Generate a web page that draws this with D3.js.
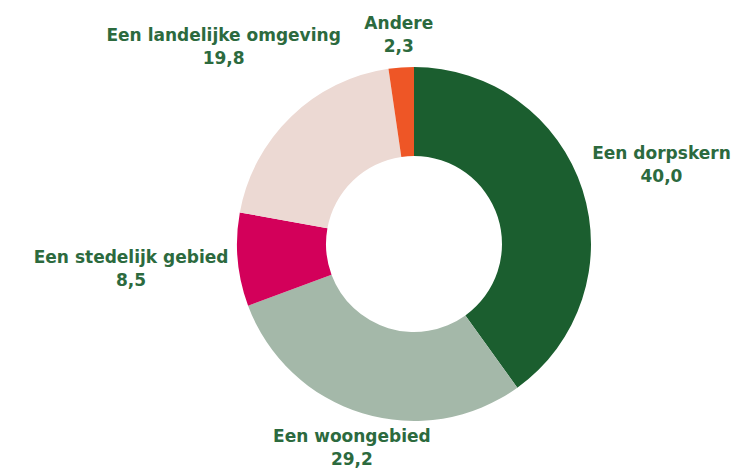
<!DOCTYPE html>
<html>
<head>
<meta charset="utf-8">
<script src="https://cdn.jsdelivr.net/npm/d3@7"></script>
<style>
  body { margin: 0; background: #fff; }
  text { font-family: "DejaVu Sans", sans-serif; font-weight: bold; }
</style>
</head>
<body>
<div id="chart"></div>
<script>
// data, clockwise from 12 o'clock
var categories = ["Een dorpskern", "Een woongebied", "Een stedelijk gebied", "Een landelijke omgeving", "Andere"];
var values = [40.0, 29.2, 8.5, 19.8, 2.3];
var valueLabels = ["40,0", "29,2", "8,5", "19,8", "2,3"];
var colors = ["#1b5e2f", "#a4b8a9", "#d3005a", "#ecd9d3", "#ee5626"];

// label distance from centre, per slice
var labelRadius = [260, 213, 284, 274, 210];

var width = 735, height = 468;
var cx = 414, cy = 244, outer = 177, inner = 88;

var svg = d3.select("#chart")
    .append("svg")
    .attr("width", width)
    .attr("height", height)
    .append("g")
    .attr("transform", "translate(" + cx + "," + cy + ")");

var pie = d3.pie().sort(null).value(function (d) { return d; });
var arcs = pie(values);

var arc = d3.arc().innerRadius(inner).outerRadius(outer);

svg.selectAll("path")
    .data(arcs)
    .enter()
    .append("path")
    .attr("d", arc)
    .attr("fill", function (d, i) { return colors[i]; });

// labels
var labels = svg.selectAll("g.label")
    .data(arcs)
    .enter()
    .append("g")
    .attr("class", "label")
    .attr("transform", function (d, i) {
        var a = (d.startAngle + d.endAngle) / 2;
        var r = labelRadius[i];
        return "translate(" + (Math.sin(a) * r) + "," + (-Math.cos(a) * r) + ")";
    });

labels.append("text")
    .attr("text-anchor", "middle")
    .attr("y", -5.5)
    .attr("fill", "#2c6a3e")
    .style("font-size", "17px")
    .text(function (d, i) { return categories[i]; });

labels.append("text")
    .attr("text-anchor", "middle")
    .attr("y", 17.5)
    .attr("fill", "#2c6a3e")
    .style("font-size", "17px")
    .text(function (d, i) { return valueLabels[i]; });
</script>
</body>
</html>
